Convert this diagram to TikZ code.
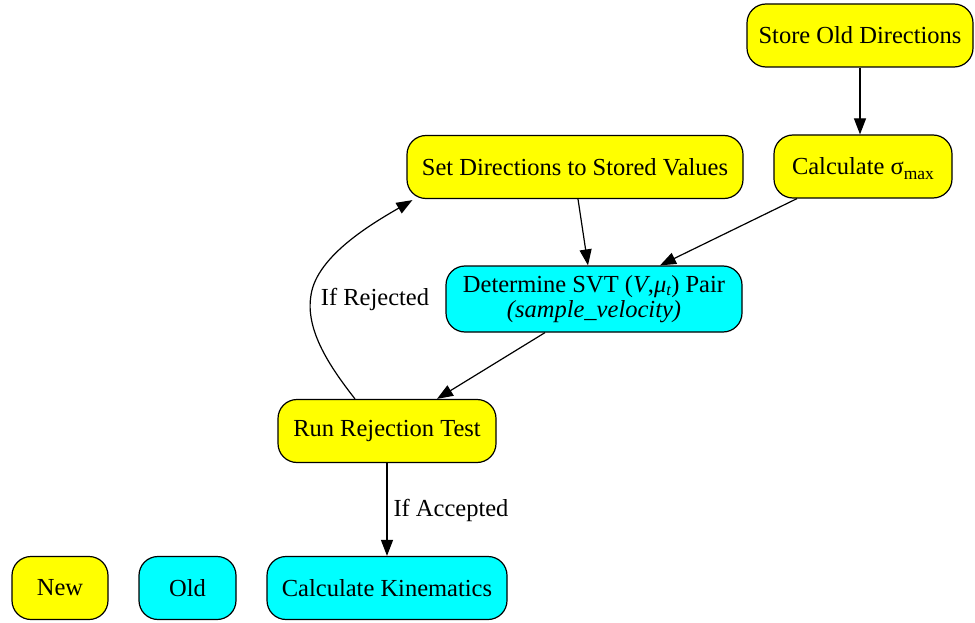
\documentclass[tikz,border=0pt]{standalone}
\usepackage{fontspec}
\setmainfont{Liberation Serif}
\usetikzlibrary{arrows.meta,calc}
\definecolor{newc}{RGB}{255,255,0}
\definecolor{oldc}{RGB}{0,255,255}
\tikzset{
  box/.style={draw=black, line width=1.2pt, rounded corners=19pt, minimum height=63pt,
    inner sep=0pt, align=center, font=\fontsize{24.5}{22}\selectfont},
  newbox/.style={box, fill=newc},
  oldbox/.style={box, fill=oldc},
  edge/.style={draw=black, line width=1.2pt, -{Triangle[length=16pt,width=12pt]}},
  lbl/.style={inner sep=0pt, font=\fontsize{24.5}{22}\selectfont}
}
\newcommand{\subtxt}[1]{\raisebox{-5pt}[0pt][0pt]{\fontsize{17.5}{17.5}\selectfont #1}}
\newcommand{\subtxtsm}[1]{\raisebox{-3.5pt}[0pt][0pt]{\fontsize{16.5}{16.5}\selectfont #1}}
\begin{document}
\begin{tikzpicture}[x=1pt,y=-1pt]
\useasboundingbox (0,0) rectangle (975,623);
\node[newbox, minimum width=226pt] (store) at (860,35.5) {Store Old Directions};
\node[newbox, minimum width=178pt] (sigma) at (863,166.5) {Calculate σ\subtxt{max}};
\node[newbox, minimum width=336pt] (set) at (575,167) {Set Directions to Stored Values};
\node[oldbox, minimum width=296pt, minimum height=66pt] (svt) at (594,299)
  {Determine SVT (\textit{V},\textit{μ}\subtxtsm{\textit{t}}) Pair\\[2pt] \textit{(sample\_velocity)}};
\node[newbox, minimum width=218pt] (run) at (387,431) {Run Rejection Test};
\node[oldbox, minimum width=240pt] (kin) at (387,588) {Calculate Kinematics};
\node[newbox, minimum width=96pt] (new) at (60,588) {New};
\node[oldbox, minimum width=97pt] (old) at (187.5,588) {Old};

\draw[edge] (store.south) -- (store.south |- sigma.north);
\draw[edge] ($(set.south)+(3,0)$) -- ($(svt.north)+(-6,0)$);
\draw[edge] ($(sigma.south)+(-66,0)$) -- ($(svt.north)+(66,0)$);
\draw[edge] ($(svt.south)+(-49,0)$) -- ($(run.north)+(50,0)$);
\draw[edge] (run.south) -- (kin.north);
\coordinate (bend) at (311,295);
\draw[edge] ($(run.north)+(-32,0)$) .. controls (330,367) and (305,330) .. (bend)
  .. controls (317,255) and (375,222) .. ($(set.south west)+(6,1)$);
\node[lbl] (lrej) at (375,299) {If Rejected};
\node[lbl] (lacc) at (451,510) {If Accepted};
\end{tikzpicture}
\end{document}
